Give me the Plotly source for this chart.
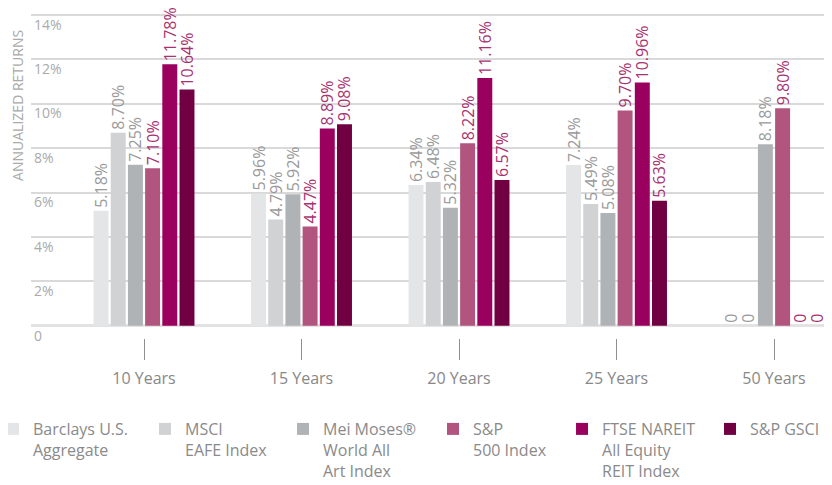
import plotly.graph_objects as go

categories = ["10 Years", "15 Years", "20 Years", "25 Years", "50 Years"]
series_names = [
    "Barclays U.S.<br>Aggregate",
    "MSCI<br>EAFE Index",
    "Mei Moses®<br>World All<br>Art Index",
    "S&P<br>500 Index",
    "FTSE NAREIT<br>All Equity<br>REIT Index",
    "S&P GSCI",
]
barclays = [5.18, 5.96, 6.34, 7.24, 0]
msci = [8.70, 4.79, 6.48, 5.49, 0]
mei_moses = [7.25, 5.92, 5.32, 5.08, 8.18]
sp500 = [7.10, 4.47, 8.22, 9.70, 9.80]
ftse_nareit = [11.78, 8.89, 11.16, 10.96, 0]
sp_gsci = [10.64, 9.08, 6.57, 5.63, 0]

y_tickvals = [0, 2, 4, 6, 8, 10, 12, 14]
y_ticktext = ["0", "2%", "4%", "6%", "8%", "10%", "12%", "14%"]

bar_colors = ["#e4e5e7", "#d1d2d4", "#b0b3b6", "#b1557f", "#9a005e", "#710042"]
label_colors = ["#9a9a9a", "#9a9a9a", "#9a9a9a", "#a8326f", "#a8326f", "#a8326f"]

# horizontal placement of each legend entry (paper fraction)
legend_x = [-0.047, 0.1409, 0.3115, 0.4969, 0.6564, 0.8393]

FONT = "Open Sans"

def fmt(v):
    return f"{v:.2f}%" if v else "0"

legend_ids = ["legend", "legend2", "legend3", "legend4", "legend5", "legend6"]

fig = go.Figure()
all_series = [barclays, msci, mei_moses, sp500, ftse_nareit, sp_gsci]
for name, vals, col, lcol, lid in zip(series_names, all_series, bar_colors, label_colors, legend_ids):
    fig.add_trace(go.Bar(
        x=categories, y=vals, name=name, legend=lid,
        marker=dict(color=col, line=dict(width=0)),
        text=[fmt(v) for v in vals],
        textposition="outside", textangle=-90,
        textfont=dict(family=FONT, size=16, color=lcol),
        constraintext="none", cliponaxis=False,
        hoverinfo="skip",
    ))

legend_style = dict(
    orientation="h", xref="paper", yref="container",
    xanchor="left", y=0.167, yanchor="top",
    font=dict(family=FONT, size=16, color="#8a8a8a"),
    valign="top", bgcolor="rgba(0,0,0,0)",
)
legends = {lid: dict(legend_style, x=lx) for lid, lx in zip(legend_ids, legend_x)}

fig.update_layout(
    width=832, height=485,
    margin=dict(l=23, r=0, t=0, b=145, autoexpand=False),
    paper_bgcolor="white", plot_bgcolor="white",
    barmode="group", bargap=0.345, bargroupgap=0.13,
    font=dict(family=FONT, color="#888888"),
    xaxis=dict(
        range=[-0.7175, 4.419], anchor="free", position=0.03,
        showgrid=False, zeroline=False, showline=False,
        ticks="outside", ticklen=21, tickwidth=1, tickcolor="#8f8f8f",
        tickfont=dict(family=FONT, size=16, color="#888888"),
        ticklabelstandoff=5,
    ),
    yaxis=dict(
        range=[-1, 14.315], domain=[0, 1],
        tickvals=y_tickvals, ticktext=y_ticktext,
        ticklabelposition="inside bottom",
        tickfont=dict(family=FONT, size=14, color="#aaaaaa"),
        showgrid=True, gridcolor="#d9d9d9", gridwidth=1.5,
        zeroline=True, zerolinecolor="#e3e3e3", zerolinewidth=2.5,
        showline=False, ticks="",
    ),
    showlegend=True,
    annotations=[dict(
        text="ANNUALIZED RETURNS", textangle=-90,
        xref="paper", yref="paper", x=-0.0161, y=0.715,
        xanchor="center", yanchor="middle", showarrow=False,
        font=dict(family=FONT, size=14, color="#aaaaaa"),
    )],
    **legends,
)

fig.write_html("out.html")
